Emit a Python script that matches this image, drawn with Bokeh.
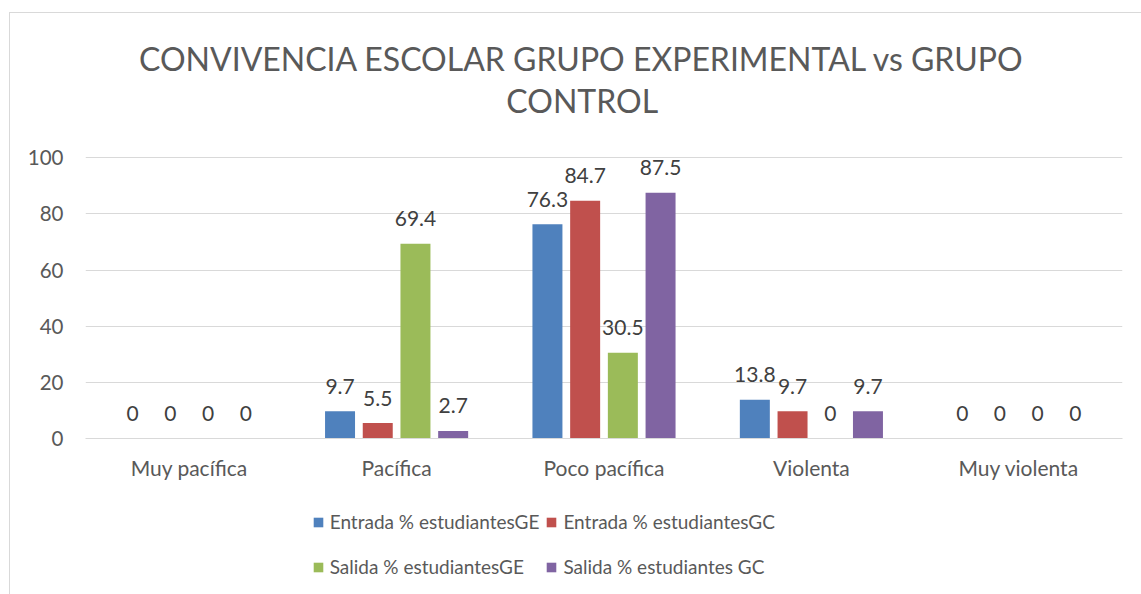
from bokeh.plotting import figure
from bokeh.layouts import column
from bokeh.models import (FactorRange, Range1d, FixedTicker, Legend,
                          LegendItem, ColumnDataSource, Label)
from bokeh.transform import dodge
from bokeh.core.properties import value
from bokeh.embed import file_html
from bokeh.resources import INLINE

# ---- data ----
categories = ["Muy pacífica", "Pacífica", "Poco pacífica", "Violenta", "Muy violenta"]
series_names = ["Entrada % estudiantesGE", "Entrada % estudiantesGC",
                "Salida % estudiantesGE", "Salida % estudiantes GC"]
entrada_ge = [0, 9.7, 76.3, 13.8, 0]
entrada_gc = [0, 5.5, 84.7, 9.7, 0]
salida_ge = [0, 69.4, 30.5, 0, 0]
salida_gc = [0, 2.7, 87.5, 9.7, 0]
y_ticks = [0, 20, 40, 60, 80, 100]
title_lines = ["CONVIVENCIA ESCOLAR GRUPO EXPERIMENTAL vs GRUPO", "CONTROL"]

# ---- style ----
colors = ["#4F81BD", "#C0504D", "#9BBB59", "#8064A2"]
offsets = [-0.2727, -0.0909, 0.0909, 0.2727]
FONT = "Lato"
GRID = "#D9D9D9"
TXT = "#595959"
W = 1131            # content width inside the chart border
BL, BR = 75, 19     # shared left / right borders so all frames line up

common = dict(width=W, min_border_left=BL, min_border_right=BR,
              output_backend="svg", toolbar_location=None)

# ---- title strip ----
TH = 133
t = figure(height=TH, x_range=Range1d(0, 1), y_range=Range1d(0, TH),
           x_axis_type=None, y_axis_type=None, title=None,
           min_border_top=0, min_border_bottom=0, **common)
t.grid.visible = False
t.outline_line_color = None
for txt, ybase in zip(title_lines, [88.3, 45.6]):
    t.add_layout(Label(x=0.479, y=ybase, text=txt, text_align="center",
                       text_baseline="alphabetic", text_font=FONT,
                       text_font_size="32px", text_color=TXT))

# ---- main chart ----
p = figure(x_range=FactorRange(*categories, range_padding=0),
           y_range=Range1d(0, 104), title=None, height=354,
           min_border_top=0, min_border_bottom=62, **common)

p.outline_line_color = None
p.xgrid.grid_line_color = None
p.ygrid.grid_line_color = GRID
p.ygrid.grid_line_width = 1
p.ygrid.ticker = FixedTicker(ticks=y_ticks)

p.yaxis.ticker = FixedTicker(ticks=y_ticks)
p.yaxis.axis_line_color = None
p.yaxis.major_tick_line_color = None
p.yaxis.minor_tick_line_color = None
p.yaxis.major_tick_in = 0
p.yaxis.major_tick_out = 0
p.yaxis.major_label_standoff = 22
p.yaxis.major_label_text_font = FONT
p.yaxis.major_label_text_font_size = "20.5px"
p.yaxis.major_label_text_color = TXT

p.xaxis.axis_line_color = GRID
p.xaxis.axis_line_width = 1
p.xaxis.major_tick_line_color = None
p.xaxis.minor_tick_line_color = None
p.xaxis.major_tick_in = 0
p.xaxis.major_tick_out = 0
p.xaxis.major_label_standoff = 16
p.xaxis.major_label_text_font = FONT
p.xaxis.major_label_text_font_size = "21px"
p.xaxis.major_label_text_color = TXT

# ---- legend strip (shares the x range; zero-width proxies out of view) ----
q = figure(height=94, x_range=p.x_range, y_range=Range1d(1000, 1001),
           x_axis_type=None, y_axis_type=None, title=None,
           min_border_top=0, min_border_bottom=0, **common)
q.grid.visible = False
q.outline_line_color = None

all_series = [entrada_ge, entrada_gc, salida_ge, salida_gc]
items = []
for name, vals, col, off in zip(series_names, all_series, colors, offsets):
    src = ColumnDataSource(dict(cat=categories, val=vals,
                                lab=[f"{v:g}" for v in vals]))
    p.vbar(x=dodge("cat", off, range=p.x_range), top="val", width=0.1446,
           fill_color=col, line_color=None, source=src)
    p.text(x=dodge("cat", off, range=p.x_range), y="val", text="lab",
           text_align="center", text_baseline="alphabetic", y_offset=-25,
           text_font=value(FONT), text_font_size="21px", text_color="#404040",
           source=src)
    r = q.vbar(x=dodge("cat", off, range=q.x_range), top="val", width=0,
               fill_color=col, line_color=None, source=src)
    items.append(LegendItem(label=name, renderers=[r]))

lg = Legend(items=items, orientation="horizontal", ncols=2,
            location=(226.7, 8), margin=0,
            glyph_width=12, glyph_height=12, label_standoff=6,
            spacing=6, label_height=39, padding=0,
            border_line_color=None, background_fill_alpha=0,
            label_text_font=FONT, label_text_font_size="19px",
            label_text_color=TXT)
q.add_layout(lg, "center")

layout = column(t, p, q, spacing=0,
                styles={"border-left": "1px solid #D9D9D9",
                        "border-top": "1px solid #D9D9D9",
                        "margin": "12px 0px 0px 9px"})
open("out.html", "w").write(file_html(layout, INLINE))
